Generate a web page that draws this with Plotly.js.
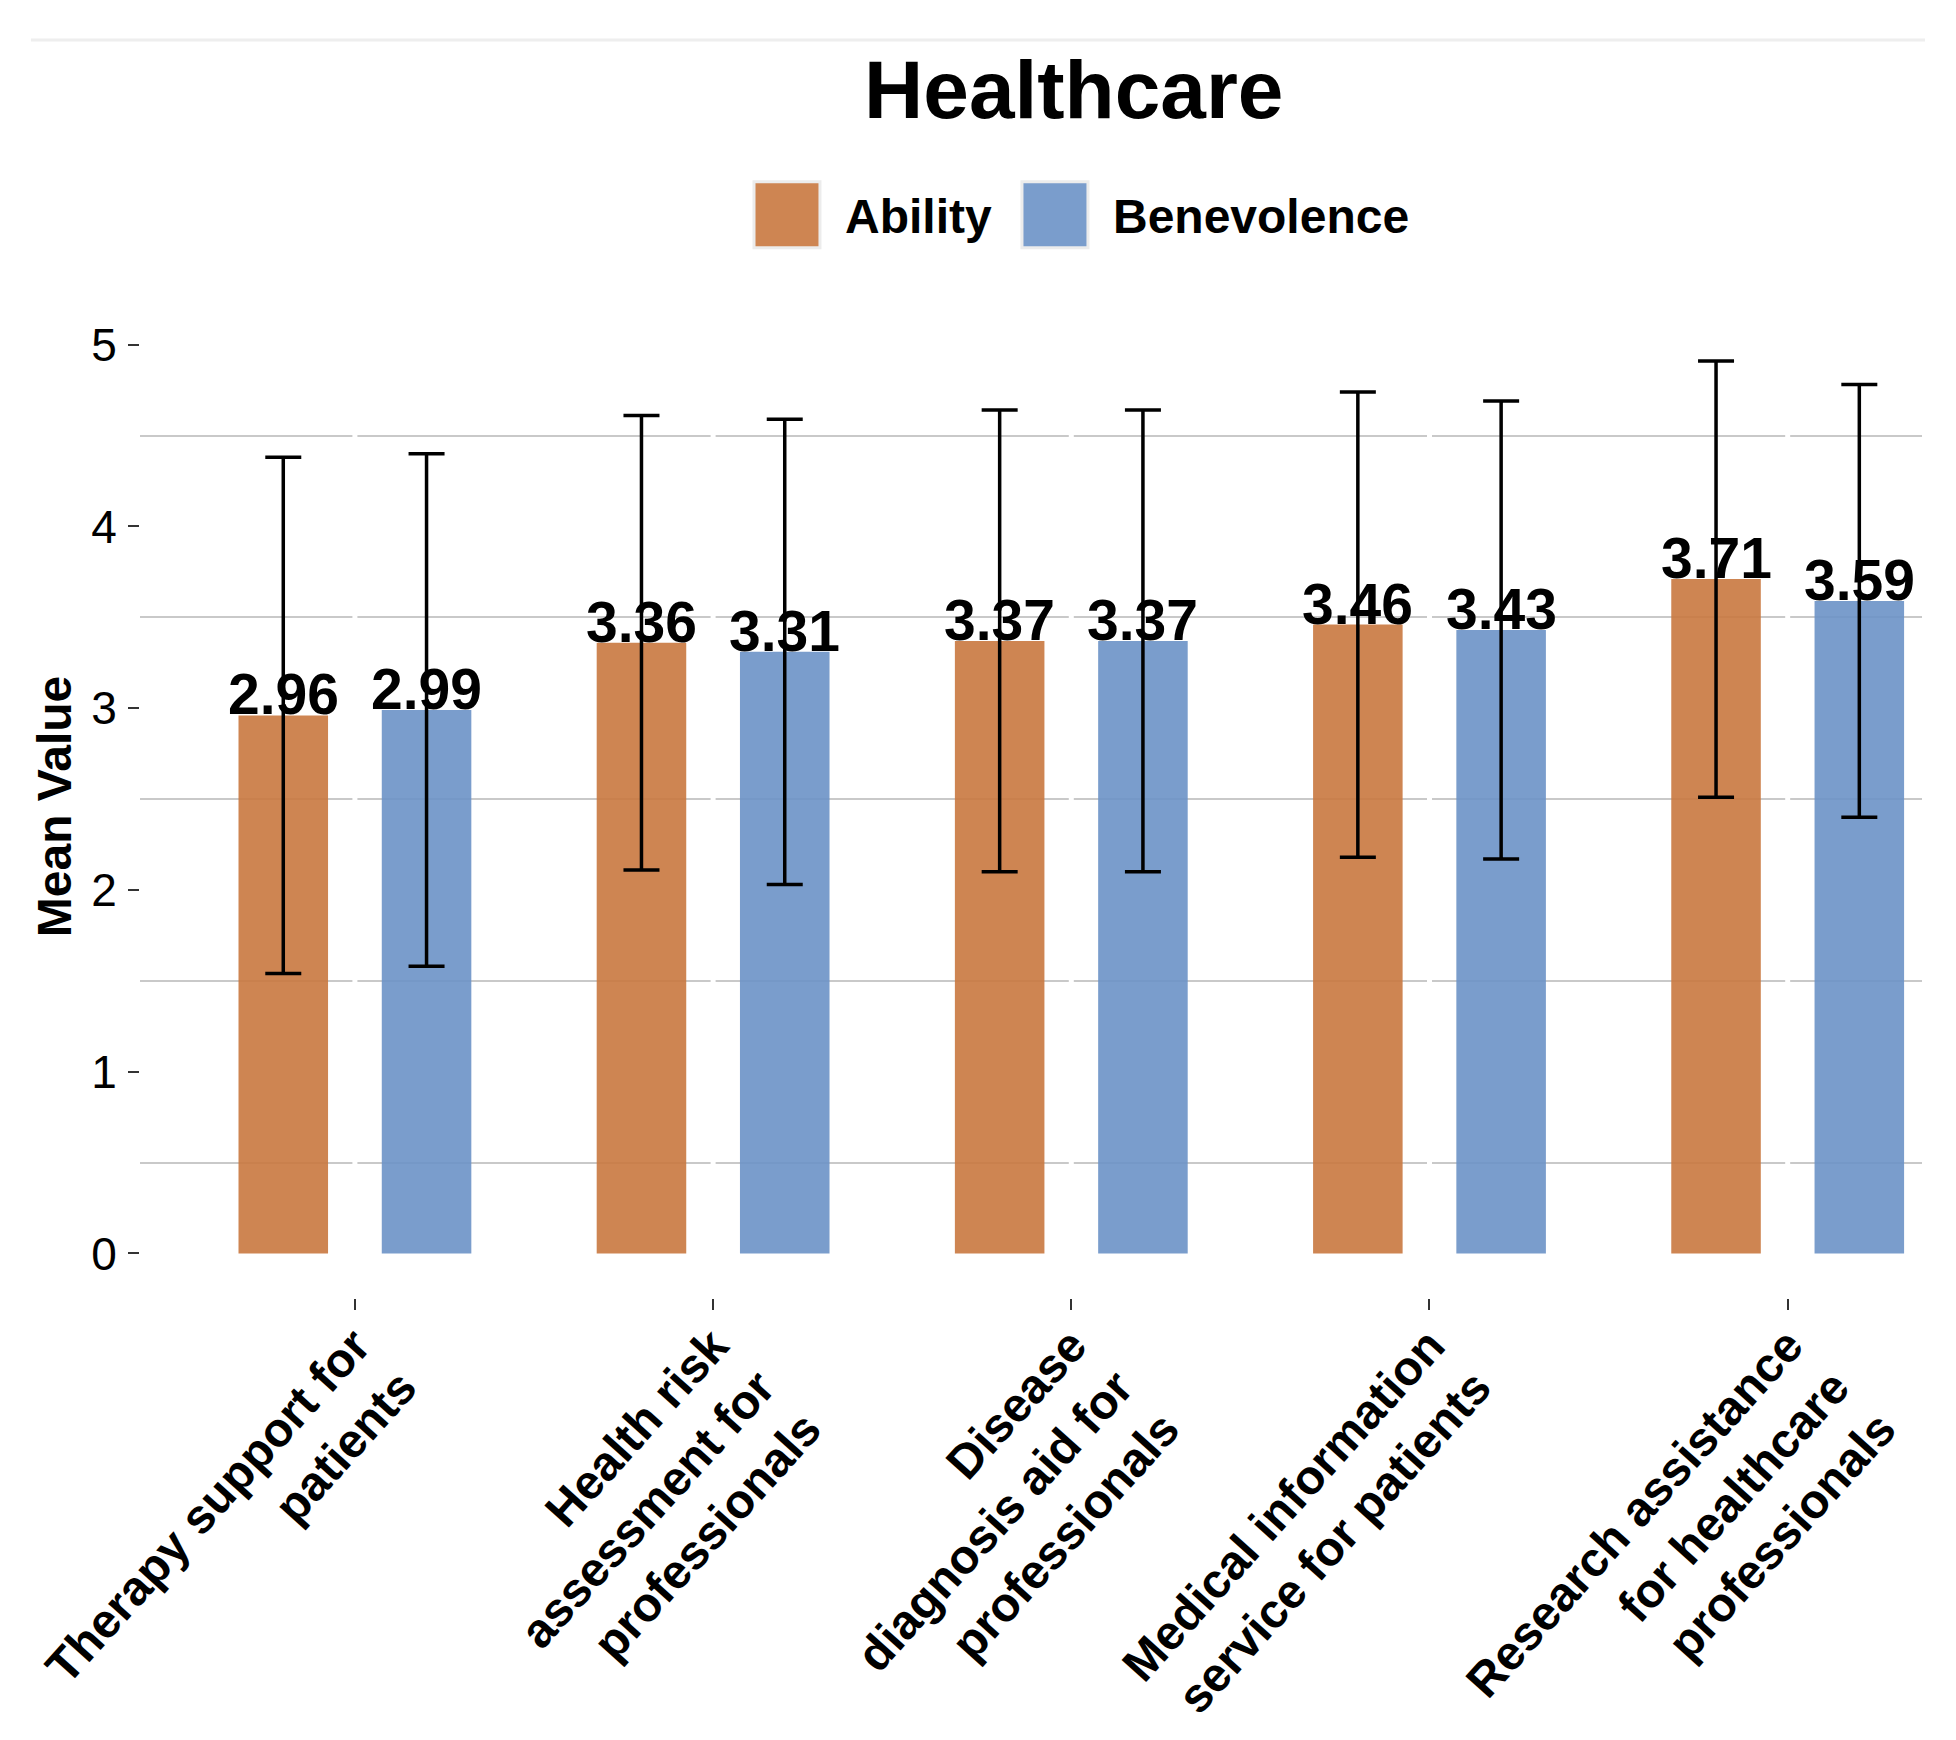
<!DOCTYPE html>
<html>
<head>
<meta charset="utf-8">
<script src="https://cdn.plot.ly/plotly-3.0.1.min.js"></script>
<style>
  html, body { margin: 0; padding: 0; background: #ffffff; }
  #chart { width: 1956px; height: 1740px; }
</style>
</head>
<body>
<div id="chart"></div>
<script>
// ---- data ----
const categories = [
  "Therapy support for patients",
  "Health risk assessment for professionals",
  "Disease diagnosis aid for professionals",
  "Medical information service for patients",
  "Research assistance for healthcare professionals"
];
const tickLabels = [
  "Therapy support for<br>patients",
  "Health risk<br>assessment for<br>professionals",
  "Disease<br>diagnosis aid for<br>professionals",
  "Medical information<br>service for patients",
  "Research assistance<br>for healthcare<br>professionals"
];
const seriesNames = ["Ability", "Benevolence"];
const abilityMean = [2.96, 3.36, 3.37, 3.46, 3.71];
const benevolenceMean = [2.99, 3.31, 3.37, 3.43, 3.59];
const abilitySD = [1.42, 1.25, 1.27, 1.28, 1.20];
const benevolenceSD = [1.41, 1.28, 1.27, 1.26, 1.19];
const yTickVals = [0, 1, 2, 3, 4, 5];

// ---- style ----
const FONT = "Liberation Sans, Arial, Helvetica, sans-serif";
const orange = "rgb(201,120,63)";
const blue = "rgb(108,146,198)";
const W = 1956, H = 1740;
const margin = {l: 140, r: 34, t: 315, b: 442, pad: 0};
const xRange = [-0.6, 4.375];
const yRange = [-0.245, 5.163];
const bargap = 0.2, bargroupgap = 0.375;
const slot = (1 - bargap) / 2;
const pxPerX = (W - margin.l - margin.r) / (xRange[1] - xRange[0]);

function barTrace(name, means, sds, color) {
  return {
    type: "bar",
    name: name,
    x: categories,
    y: means,
    marker: {color: color, opacity: 0.9, line: {width: 0}},
    error_y: {type: "data", array: sds, symmetric: true, color: "#000000", thickness: 3.5, width: 18},
    hoverinfo: "none"
  };
}

const traces = [
  barTrace(seriesNames[0], abilityMean, abilitySD, orange),
  barTrace(seriesNames[1], benevolenceMean, benevolenceSD, blue)
];

const annotations = [];
[abilityMean, benevolenceMean].forEach((arr, si) => {
  const shift = (si === 0 ? -1 : 1) * slot / 2 * pxPerX;
  arr.forEach((v, i) => {
    annotations.push({
      x: categories[i], y: v, xref: "x", yref: "y",
      text: v.toFixed(2), showarrow: false,
      xanchor: "center", yanchor: "bottom",
      xshift: shift, yshift: -13,
      font: {family: FONT, size: 57, color: "#000000", weight: "bold"}
    });
  });
});

// white breaks in the horizontal gridlines at each category centre
const shapes = categories.map(c => ({
  type: "line", xref: "x", yref: "paper", x0: c, x1: c, y0: 0, y1: 1,
  line: {color: "#ffffff", width: 5}, layer: "above"
}));
shapes.push({
  type: "line", xref: "paper", yref: "paper",
  x0: -0.0612, x1: 1.0017, y0: 1.2798, y1: 1.2798,
  line: {color: "#eeeeee", width: 3}, layer: "above"
});

const layout = {
  width: W, height: H,
  margin: margin,
  paper_bgcolor: "#ffffff",
  plot_bgcolor: "#ffffff",
  font: {family: FONT, color: "#000000"},
  barmode: "group",
  bargap: bargap,
  bargroupgap: bargroupgap,
  title: {
    text: "<b>Healthcare</b>",
    font: {family: FONT, size: 82, color: "#000000"},
    xref: "paper", x: 0.524, xanchor: "center",
    yref: "container", y: 0.9489, yanchor: "middle"
  },
  showlegend: true,
  legend: {
    orientation: "h",
    x: 0.523, xanchor: "center",
    y: 1.1017, yanchor: "middle",
    font: {family: FONT, size: 48, color: "#000000", weight: "bold"},
    itemwidth: 106,
    traceorder: "normal",
    bgcolor: "rgba(0,0,0,0)"
  },
  xaxis: {
    type: "category",
    range: xRange,
    tickvals: categories,
    ticktext: tickLabels,
    tickangle: -48,
    tickfont: {family: FONT, size: 48, color: "#000000", weight: "bold"},
    ticks: "outside", ticklen: 11, tickwidth: 2, tickcolor: "#333333",
    ticklabelstandoff: -12,
    showgrid: false, showline: false, zeroline: false,
    fixedrange: true
  },
  yaxis: {
    range: yRange,
    tickvals: yTickVals,
    ticktext: yTickVals.map(String),
    tickfont: {family: FONT, size: 46, color: "#000000"},
    ticks: "outside", ticklen: 11, tickwidth: 2, tickcolor: "#333333",
    ticklabelstandoff: 2,
    showgrid: false, zeroline: false, showline: false,
    minor: {tick0: 0.5, dtick: 1, showgrid: true, gridcolor: "#c9c9c9", gridwidth: 2, ticks: ""},
    title: {
      text: "<b>Mean Value</b>",
      font: {family: FONT, size: 48, color: "#000000"},
      standoff: 4
    },
    fixedrange: true
  },
  annotations: annotations,
  shapes: shapes
};

Plotly.newPlot("chart", traces, layout, {displayModeBar: false, responsive: false}).then(gd => {
  gd.querySelectorAll(".legend .legendpoints path").forEach(p => {
    const t = p.getAttribute("transform") || "";
    p.setAttribute("transform", t + " scale(5.5)");
    p.style.stroke = "#ececec";
    p.style.strokeWidth = "0.55px";
    p.style.fillOpacity = "0.9";
  });
});
</script>
</body>
</html>
